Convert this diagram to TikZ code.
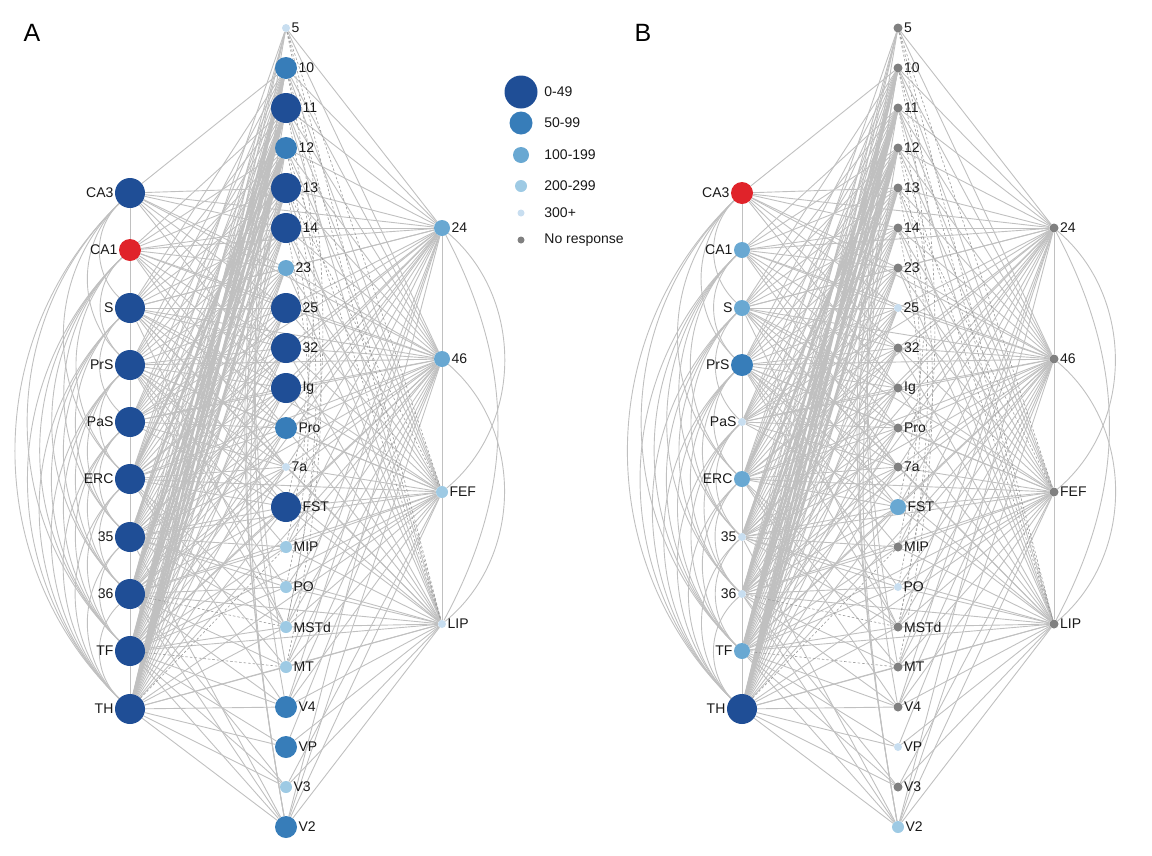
\documentclass[tikz,border=0pt]{standalone}
\usepackage{fontspec}
\setmainfont{Liberation Sans}
\usetikzlibrary{backgrounds}

\definecolor{blue0}{RGB}{31,78,150}
\definecolor{blue1}{RGB}{55,125,185}
\definecolor{blue2}{RGB}{105,168,210}
\definecolor{blue3}{RGB}{158,202,228}
\definecolor{blue4}{RGB}{200,222,240}
\definecolor{nores}{RGB}{128,128,128}
\definecolor{hotred}{RGB}{224,35,42}
\definecolor{linkgray}{RGB}{192,192,192}

% connections, the same in both panels (#1 = panel prefix)
\newcommand\drawlinks[1]{%
  % left column
  \foreach \s/\t in {CA3/CA1,CA1/S,S/PrS,PrS/PaS,PaS/ERC,ERC/35,35/36,36/TF,TF/TH}
    \draw[link] (#1\s) -- (#1\t);
  \foreach \s/\tlist in {CA3/{S,PrS,ERC,TF,TH},CA1/{PrS,ERC,35,36,TF,TH},S/{PaS,35,36,TF,TH},
      PrS/{ERC,35,36,TF,TH},PaS/{35,36,TF,TH},ERC/{36,TF,TH},35/{TF,TH},36/{TH}}
    \foreach \t in \tlist \draw[link] (#1\s) to[bend right=46] (#1\t);
  % left to middle and right
  \foreach \s/\tlist in {CA3/{10,13,14,23,25,32,Ig,24,46},
      CA1/{11,12,13,14,23,25,32,Ig,Pro,7a,24,46},
      S/{10,11,12,13,14,23,25,32,Ig,Pro,7a,FST,MSTd,24,46,FEF,LIP},
      PrS/{10,11,12,13,14,23,25,32,Ig,Pro,7a,FST,MIP,PO,MSTd,46,FEF,LIP},
      PaS/{10,11,12,13,14,23,25,32,Ig,Pro,7a,FST,24,46},
      ERC/{5,10,11,12,13,14,23,25,32,Ig,Pro,7a,FST,MSTd,MT,V4,24,46,FEF},
      35/{10,11,12,13,14,23,25,32,Ig,Pro,7a,FST,MIP,PO,MSTd,V2,24,46,FEF,LIP},
      36/{5,10,11,12,13,14,23,25,32,Ig,Pro,7a,FST,MIP,PO,MT,V4,V3,V2,24,46,FEF,LIP},
      TF/{5,10,11,12,13,14,23,25,32,Ig,Pro,7a,FST,MIP,PO,MSTd,V4,VP,V3,V2,24,46,FEF,LIP},
      TH/{5,10,11,12,13,14,23,25,32,Ig,Pro,7a,FST,MSTd,MT,V4,VP,V3,V2,46,FEF,LIP}}
    \foreach \t in \tlist \draw[link] (#1\s) -- (#1\t);
  \foreach \s/\tlist in {TH/{10,11,12,13},TF/{10,11,12},36/{11,12},35/{11},ERC/{12}}
    \foreach \t in \tlist \draw[strong] (#1\s) -- (#1\t);
  \foreach \s/\t in {TF/MT,36/MSTd,TH/MIP}
    \draw[faint] (#1\s) -- (#1\t);
  % middle column
  \foreach \s/\t in {5/V2,10/V2,12/V2,11/V4,10/MT}
    \draw[link] (#1\s) to[bend right=10] (#1\t);
  \foreach \s/\t in {5/MSTd,10/FST,11/MT,12/MSTd,13/MIP,14/PO}
    \draw[faint] (#1\s) to[bend left=12] (#1\t);
  % middle to right
  \foreach \s/\tlist in {5/{24,46},10/{24,46,FEF},11/{24,46,FEF,LIP},12/{24,46,FEF},
      13/{24,46,LIP},14/{24,46,FEF,LIP},23/{24,46,FEF,LIP},25/{24,46,FEF},
      32/{24,46,FEF,LIP},Ig/{24,46,FEF,LIP},Pro/{24,46,FEF,LIP},7a/{24,46,FEF,LIP},
      FST/{24,46,FEF,LIP},MIP/{24,46,FEF,LIP},PO/{46,FEF,LIP},MSTd/{24,46,FEF,LIP},
      MT/{24,46,FEF,LIP},V4/{24,46,FEF,LIP},VP/{46,LIP},V3/{FEF,LIP},V2/{24,46,FEF,LIP}}
    \foreach \t in \tlist \draw[link] (#1\s) -- (#1\t);
  \foreach \s/\t in {5/FEF,5/LIP,10/LIP,12/LIP,13/FEF}
    \draw[faint] (#1\s) -- (#1\t);
  % right column
  \foreach \s/\t in {24/46,46/FEF,FEF/LIP}
    \draw[link] (#1\s) -- (#1\t);
  \draw[link] (#124) to[bend left=50] (#1FEF);
  \draw[link] (#146) to[bend left=50] (#1LIP);
  \draw[link] (#124) to[bend left=28] (#1LIP);
}

\begin{document}
\begin{tikzpicture}[x=1pt, y=-1pt,
    area/.style={circle, inner sep=0pt, minimum size=9pt, fill=nores},
    r0/.style={area, fill=blue0, minimum size=30pt},
    r1/.style={area, fill=blue1, minimum size=22pt},
    r2/.style={area, fill=blue2, minimum size=16pt},
    r3/.style={area, fill=blue3, minimum size=12pt},
    r4/.style={area, fill=blue4, minimum size=8pt},
    nr/.style={area, fill=nores, minimum size=9pt},
    peak/.style={area, fill=hotred, minimum size=22pt},
    lbl/.style={font=\fontsize{14}{16}\selectfont, inner sep=1.2pt, text=black!90},
    panel/.style={font=\fontsize{25}{28}\selectfont, inner sep=0pt},
    link/.style={draw=linkgray, line width=0.9pt},
    strong/.style={draw=linkgray, line width=2.4pt},
    faint/.style={draw=linkgray!80!black, line width=0.6pt, dash pattern=on 2.5pt off 2pt}
]
\useasboundingbox (0,0) rectangle (1152,855);

% Panel A
\node[panel] (labA) at (32,33) {A};
\foreach \n/\y/\st in {CA3/193/r0,CA1/250/peak,S/308/r0,PrS/365/r0,PaS/422/r0,
    ERC/479/r0,35/537/r0,36/594/r0,TF/651/r0,TH/709/r0}
  \node[\st, label={[lbl]left:\n}] (a\n) at (130,\y) {};
\foreach \n/\y/\st in {5/28/r4,10/68/r1,11/108/r0,12/148/r1,13/188/r0,14/228/r0,
    23/268/r2,25/308/r0,32/348/r0,Ig/388/r0,Pro/428/r1,7a/467/r4,FST/507/r0,
    MIP/547/r3,PO/587/r3,MSTd/627/r3,MT/667/r3,V4/707/r1,VP/747/r1,V3/787/r3,V2/827/r1}
  \node[\st, label={[lbl]right:\n}] (a\n) at (286,\y) {};
\foreach \n/\y/\st in {24/228/r2,46/359/r2,FEF/492/r3,LIP/624/r4}
  \node[\st, label={[lbl]right:\n}] (a\n) at (442,\y) {};
\begin{pgfonlayer}{background}
  \drawlinks{a}
\end{pgfonlayer}

% Legend
\foreach \k/\y/\st/\sz/\txt in {0/92/r0/33/0-49,1/123/r1/23/50-99,2/155/r2/16/100-199,
    3/186/r3/12/200-299,4/213/r4/7/300+,5/240/nr/7/No response}
{
  \node[\st, minimum size=\sz pt] (key\k) at (521,\y) {};
  \node[lbl, anchor=west] (keytxt\k) at (543,\y) {\txt};
}

% Panel B
\begin{scope}[xshift=612pt]
\node[panel] (labB) at (31,33) {B};
\foreach \n/\y/\st in {CA3/193/peak,CA1/250/r2,S/308/r2,PrS/365/r1,PaS/422/r4,
    ERC/479/r2,35/537/r4,36/594/r4,TF/651/r2,TH/709/r0}
  \node[\st, label={[lbl]left:\n}] (b\n) at (130,\y) {};
\foreach \n/\y/\st in {5/28/nr,10/68/nr,11/108/nr,12/148/nr,13/188/nr,14/228/nr,
    23/268/nr,25/308/r4,32/348/nr,Ig/388/nr,Pro/428/nr,7a/467/nr,FST/507/r2,
    MIP/547/nr,PO/587/r4,MSTd/627/nr,MT/667/nr,V4/707/nr,VP/747/r4,V3/787/nr,V2/827/r3}
  \node[\st, label={[lbl]right:\n}] (b\n) at (286,\y) {};
\foreach \n/\y/\st in {24/228/nr,46/359/nr,FEF/492/nr,LIP/624/nr}
  \node[\st, label={[lbl]right:\n}] (b\n) at (442,\y) {};
\end{scope}
\begin{pgfonlayer}{background}
  \drawlinks{b}
\end{pgfonlayer}
\end{tikzpicture}
\end{document}
